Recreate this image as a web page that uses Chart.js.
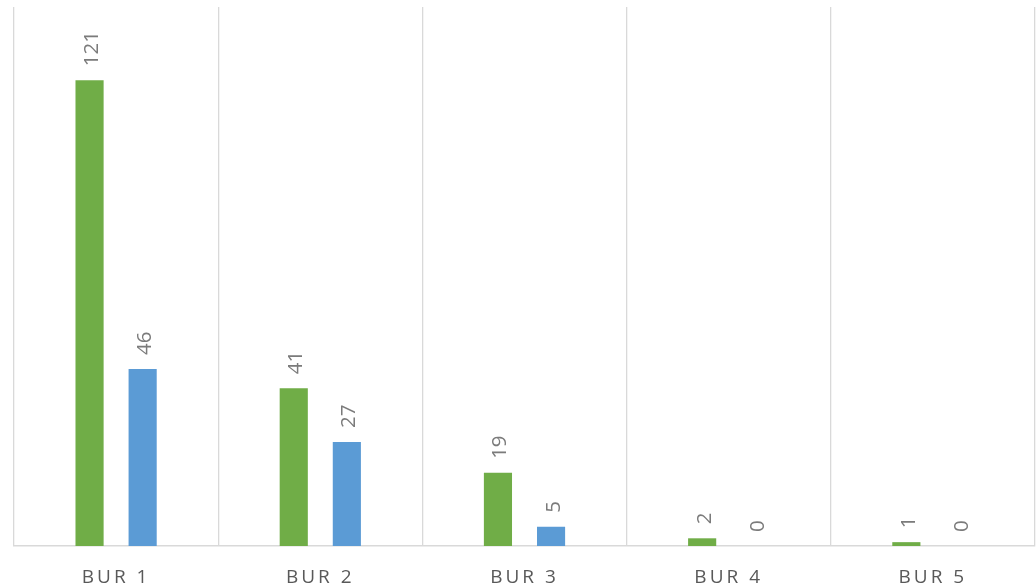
<!DOCTYPE html>
<html>
<head>
<meta charset="utf-8">
<script src="https://cdn.jsdelivr.net/npm/chart.js@4/dist/chart.umd.min.js"></script>
<style>
  html, body { margin: 0; padding: 0; background: #ffffff; }
  #wrap { width: 1036px; height: 586px; position: relative; }
</style>
</head>
<body>
<div id="wrap"><canvas id="c"></canvas></div>
<script>
const categories = ["BUR 1", "BUR 2", "BUR 3", "BUR 4", "BUR 5"];
const seriesA = [121, 41, 19, 2, 1];
const seriesB = [46, 27, 5, 0, 0];
const seriesNames = ["Series 1", "Series 2"];

const labelFont = "20.5px 'Open Sans', 'Liberation Sans', sans-serif";

const spacingPlugin = {
  id: 'spacing',
  beforeDraw(chart) { chart.ctx.letterSpacing = '3px'; },
  beforeDatasetsDraw(chart) { chart.ctx.letterSpacing = '0px'; }
};

const valueLabels = {
  id: 'valueLabels',
  afterDatasetsDraw(chart) {
    const ctx = chart.ctx;
    chart.data.datasets.forEach((ds, di) => {
      const meta = chart.getDatasetMeta(di);
      meta.data.forEach((el, i) => {
        ctx.save();
        ctx.letterSpacing = '0px';
        ctx.font = labelFont;
        ctx.fillStyle = '#7b7b7b';
        ctx.textAlign = 'left';
        ctx.textBaseline = 'alphabetic';
        ctx.translate(el.x + 8.5, el.y - 14);
        ctx.rotate(-Math.PI / 2);
        ctx.fillText(String(ds.data[i]), 0, 0);
        ctx.restore();
      });
    });
  }
};

new Chart(document.getElementById('c'), {
  type: 'bar',
  data: {
    labels: categories,
    datasets: [
      { label: seriesNames[0], data: seriesA, backgroundColor: '#70ad47', borderWidth: 0,
        categoryPercentage: 0.52, barPercentage: 0.53 },
      { label: seriesNames[1], data: seriesB, backgroundColor: '#5b9bd5', borderWidth: 0,
        categoryPercentage: 0.52, barPercentage: 0.53 }
    ]
  },
  options: {
    responsive: true,
    maintainAspectRatio: false,
    animation: false,
    layout: { padding: { left: 14, right: 1, top: 7, bottom: 0 } },
    plugins: { legend: { display: false }, tooltip: { enabled: false } },
    scales: {
      x: {
        afterFit(scale) { scale.height = 40; },
        grid: { display: true, offset: true, color: '#d9d9d9', lineWidth: 1.3, drawTicks: false },
        border: { display: true, color: '#d9d9d9', width: 1.5 },
        ticks: { color: '#595959', font: { family: "'Open Sans', 'Liberation Sans', sans-serif", size: 19 }, padding: 20 }
      },
      y: {
        display: false,
        min: 0, max: 140,
        grid: { display: false }
      }
    }
  },
  plugins: [spacingPlugin, valueLabels]
});
</script>
</body>
</html>
